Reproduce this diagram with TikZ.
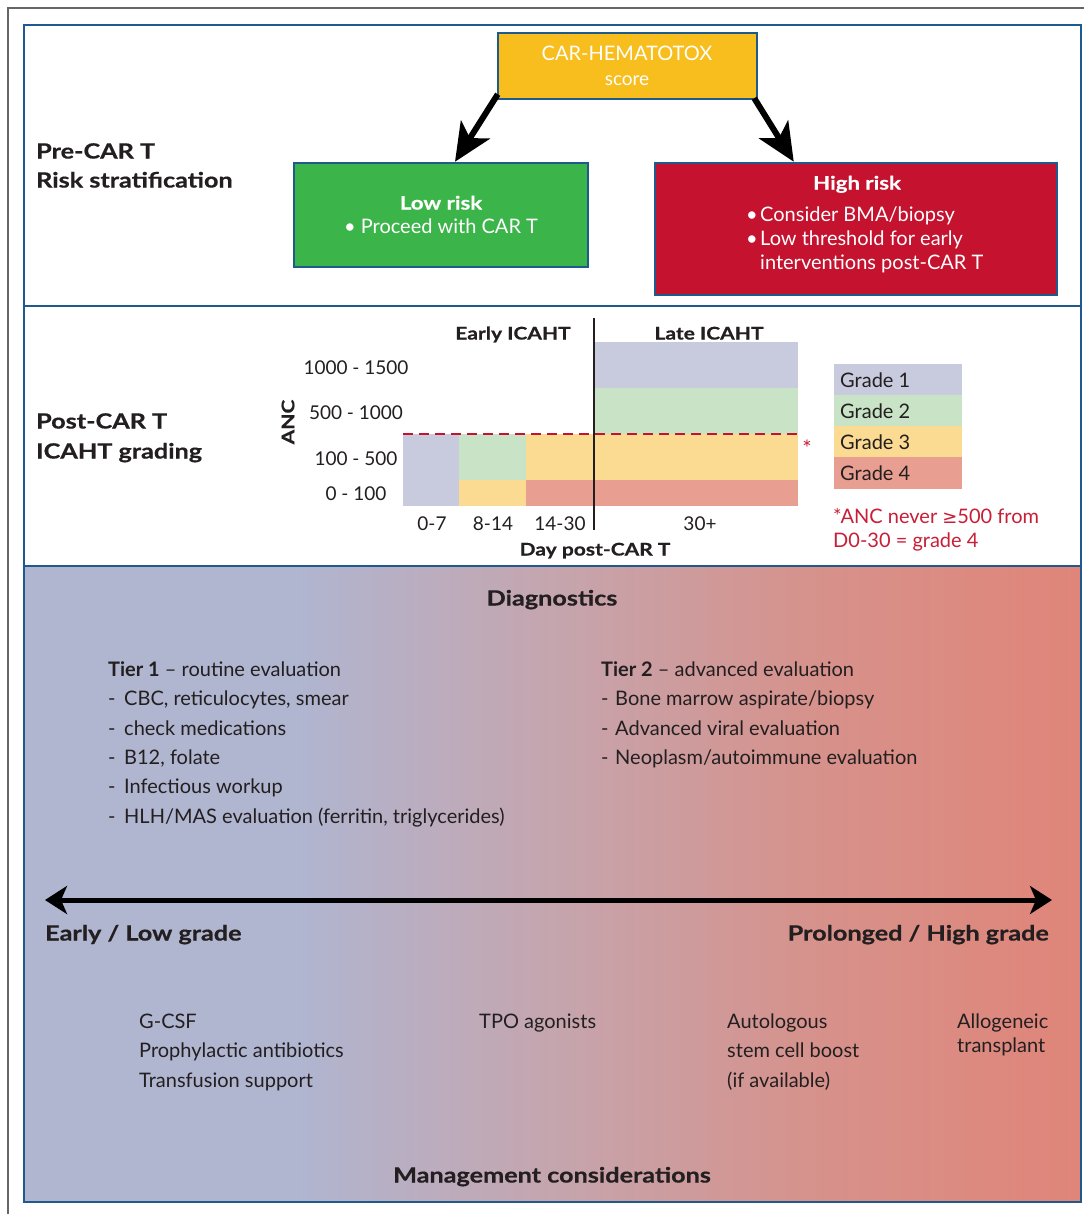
\documentclass[tikz,border=0pt]{standalone}
\usepackage{fontspec}
\setmainfont{Lato}
\newfontfamily\headfont{Lato}[FakeStretch=1.2, FakeBold=0.6]
\newfontfamily\symfont{DejaVu Sans}
\usetikzlibrary{arrows.meta,calc}
\definecolor{panelblue}{RGB}{31,90,140}
\definecolor{hyellow}{RGB}{247,190,30}
\definecolor{lgreen}{RGB}{59,180,74}
\definecolor{hred}{RGB}{196,18,47}
\definecolor{gA}{RGB}{200,203,221}
\definecolor{gB}{RGB}{200,227,197}
\definecolor{gC}{RGB}{251,218,145}
\definecolor{gD}{RGB}{232,158,144}
\definecolor{txt}{RGB}{35,31,32}
\definecolor{fnred}{RGB}{200,30,55}
\definecolor{shA}{RGB}{176,181,208}
\definecolor{shB}{RGB}{197,165,174}
\definecolor{shC}{RGB}{214,146,140}
\definecolor{shD}{RGB}{224,133,121}
\pgfdeclarehorizontalshading{botgrad}{100bp}{color(0bp)=(shA); color(25bp)=(shA); color(38bp)=(shA); color(50bp)=(shB); color(62bp)=(shC); color(75bp)=(shD); color(100bp)=(shD)}
\begin{document}
\begin{tikzpicture}[x=1pt,y=-1pt,
  every node/.style={text=txt, inner sep=0pt, yshift=-5pt, font=\fontsize{20}{24}\selectfont},
  head/.style={font=\fontsize{21}{25}\selectfont\headfont\bfseries},
  chead/.style={font=\fontsize{17.5}{21}\selectfont\headfont\bfseries},
  bhead/.style={text=white, font=\fontsize{18.5}{22}\selectfont\headfont\bfseries},
  boxed/.style={draw=panelblue, line width=2.5pt, yshift=5pt},
  bigarrow/.style={line width=6pt, -{Stealth[length=38pt,width=34pt,inset=10pt]}},
  dblarrow/.style={line width=5pt, {Stealth[length=22pt,width=28pt,inset=6pt]}-{Stealth[length=22pt,width=28pt,inset=6pt]}},
  wtxt/.style={text=white},
  chart/.style={font=\fontsize{19}{23}\selectfont},
  leg/.style={font=\fontsize{20}{24}\selectfont},
]
\useasboundingbox (0,0) rectangle (1084,1214);
\fill[white] (0,0) rectangle (1084,1214);
% outer frame
\draw[line width=1.2pt, black!60] (8,1214) -- (8,8) -- (1084,8);
% bottom gradient panel
\shade[shading=botgrad] (24,566) rectangle (1081,1202);
\draw[panelblue, line width=2.5pt] (24,25) rectangle (1081,1202);
\draw[panelblue, line width=2.5pt] (24,306) -- (1081,306);
\draw[panelblue, line width=2.5pt] (24,566) -- (1081,566);

% ---------- Top panel ----------
\node[head, anchor=mid west] (pre1) at (36,151) {Pre-CAR T};
\node[head, anchor=mid west] (pre2) at (36,180) {Risk stratification};

\node[boxed, fill=hyellow, minimum width=259pt, minimum height=66pt] (hema) at (627.5,66) {};
\node[wtxt, font=\fontsize{20}{24}\selectfont, anchor=mid] (hemaT1) at (627,53) {CAR-HEMATOTOX};
\node[wtxt, font=\fontsize{19}{23}\selectfont, anchor=mid] (hemaT2) at (627,78) {score};

\node[boxed, fill=lgreen, minimum width=294pt, minimum height=104pt] (low) at (441,215) {};
\node[bhead, anchor=mid] (lowT1) at (441,202) {Low risk};
\node[wtxt, anchor=mid] (lowT2) at (441,226) {\textbullet\ Proceed with CAR T};

\node[boxed, fill=hred, minimum width=402pt, minimum height=132pt] (high) at (856,229) {};
\node[bhead, anchor=mid] (highT1) at (857,182) {High risk};
\node[wtxt, anchor=mid west] (highT2) at (746,214) {\makebox[14pt][l]{\textbullet}Consider BMA/biopsy};
\node[wtxt, anchor=mid west] (highT3) at (746,238) {\makebox[14pt][l]{\textbullet}Low threshold for early};
\node[wtxt, anchor=mid west] (highT4) at (760,262) {interventions post-CAR T};

\draw[bigarrow] ($(hema.south west)+(1,-6)$) -- ($(low.north)+(14,0)$);
\draw[bigarrow] ($(hema.south east)+(-4,-2)$) -- ($(high.north west)+(140,0)$);

% ---------- Middle panel ----------
\node[head, anchor=mid west] (post1) at (36,421) {Post-CAR T};
\node[head, anchor=mid west] (post2) at (36,451) {ICAHT grading};

% chart cells
\fill[gA] (403,434) rectangle (459,506);
\fill[gB] (459,434) rectangle (526,480);
\fill[gC] (459,480) rectangle (526,506);
\fill[gC] (526,434) rectangle (594,480);
\fill[gD] (526,480) rectangle (594,506);
\fill[gA] (594,342) rectangle (798,388);
\fill[gB] (594,388) rectangle (798,434);
\fill[gC] (594,434) rectangle (798,480);
\fill[gD] (594,480) rectangle (798,506);
\draw[hred, line width=2.2pt, dash pattern=on 10pt off 6pt] (403,434) -- (798,434);
\draw[line width=1.8pt, txt] (594,318) -- (594,530);

\node[chead, anchor=mid] (early) at (513,332) {Early ICAHT};
\node[chead, anchor=mid] (late) at (709,332) {Late ICAHT};
\node[chart, anchor=mid] (y1) at (356,367) {1000 - 1500};
\node[chart, anchor=mid] (y2) at (356,412) {500 - 1000};
\node[chart, anchor=mid] (y3) at (356,458) {100 - 500};
\node[chart, anchor=mid] (y4) at (356,493) {0 - 100};
\node[chead, rotate=90, anchor=center, yshift=0pt] (anc) at (288,417) {ANC};
\node[chart, anchor=mid] (x1) at (432,523) {0-7};
\node[chart, anchor=mid] (x2) at (493,523) {8-14};
\node[chart, anchor=mid] (x3) at (560,523) {14-30};
\node[chart, anchor=mid] (x4) at (700,523) {30+};
\node[chead, anchor=mid] (daylab) at (595,548) {Day post-CAR T};
\node[text=fnred, font=\fontsize{22}{24}\selectfont, anchor=mid] (ast) at (807,449) {*};

% legend
\fill[gA] (834,364) rectangle (962,395);
\fill[gB] (834,395) rectangle (962,426);
\fill[gC] (834,426) rectangle (962,457);
\fill[gD] (834,457) rectangle (962,489);
\node[leg, anchor=mid west] (g1) at (840,380) {Grade 1};
\node[leg, anchor=mid west] (g2) at (840,411) {Grade 2};
\node[leg, anchor=mid west] (g3) at (840,442) {Grade 3};
\node[leg, anchor=mid west] (g4) at (840,473) {Grade 4};
\node[leg, text=fnred, anchor=mid west] (fn1) at (833,516) {*ANC never {\symfont\fontsize{18}{22}\selectfont ≥}500 from};
\node[leg, text=fnred, anchor=mid west] (fn2) at (833,540) {D0-30 = grade 4};

% ---------- Bottom panel ----------
\node[head, anchor=mid] (diag) at (552,598) {Diagnostics};
\node[anchor=mid west] (t1a) at (108,669) {\textbf{Tier 1} -- routine evaluation};
\node[anchor=mid west] (t1b) at (108,698) {\makebox[16pt][l]{-}CBC, reticulocytes, smear};
\node[anchor=mid west] (t1c) at (108,728) {\makebox[16pt][l]{-}check medications};
\node[anchor=mid west] (t1d) at (108,757) {\makebox[16pt][l]{-}B12, folate};
\node[anchor=mid west] (t1e) at (108,786) {\makebox[16pt][l]{-}Infectious workup};
\node[anchor=mid west] (t1f) at (108,816) {\makebox[16pt][l]{-}HLH/MAS evaluation (ferritin, triglycerides)};
\node[anchor=mid west] (t2a) at (601,669) {\textbf{Tier 2} -- advanced evaluation};
\node[anchor=mid west] (t2b) at (601,698) {\makebox[14pt][l]{-}Bone marrow aspirate/biopsy};
\node[anchor=mid west] (t2c) at (601,728) {\makebox[14pt][l]{-}Advanced viral evaluation};
\node[anchor=mid west] (t2d) at (601,757) {\makebox[14pt][l]{-}Neoplasm/autoimmune evaluation};

\coordinate (la) at (45,895);
\coordinate (ra) at (1052,895);
\draw[dblarrow] (la) -- (ra);
\node[head, anchor=mid west] (lowgrade) at (45,933) {Early / Low grade};
\node[head, anchor=mid east] (highgrade) at (1049,933) {Prolonged / High grade};

\node[anchor=mid west] (m1) at (139,1021) {G-CSF};
\node[anchor=mid west] (m2) at (139,1050) {Prophylactic antibiotics};
\node[anchor=mid west] (m3) at (139,1080) {Transfusion support};
\node[anchor=mid west] (m4) at (479,1021) {TPO agonists};
\node[anchor=mid west] (m5) at (727,1021) {Autologous};
\node[anchor=mid west] (m6) at (727,1050) {stem cell boost};
\node[anchor=mid west] (m7) at (727,1080) {(if available)};
\node[anchor=mid west] (m8) at (957,1021) {Allogeneic};
\node[anchor=mid west] (m9) at (957,1045) {transplant};
\node[head, anchor=mid] (mgmt) at (552,1175) {Management considerations};
\end{tikzpicture}
\end{document}
